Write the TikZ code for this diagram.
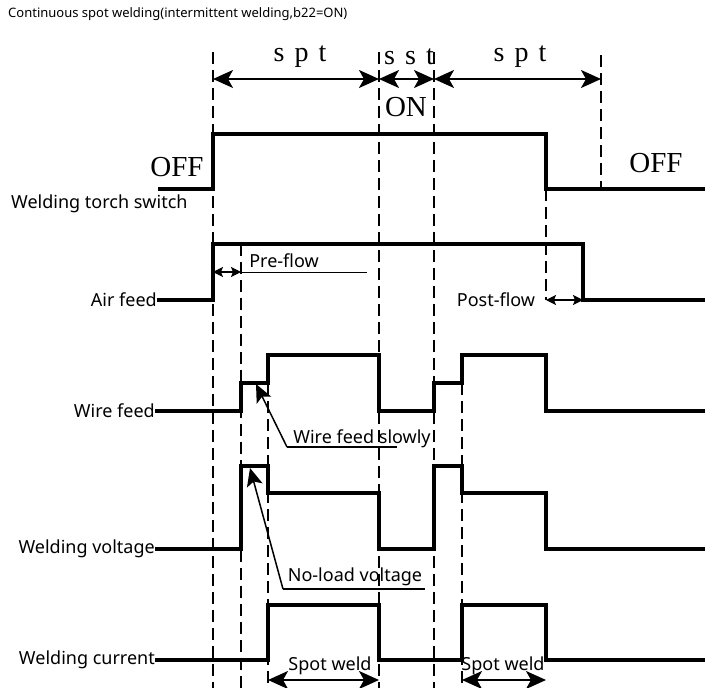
\documentclass[tikz,border=0pt]{standalone}
\usepackage{fontspec}
\setmainfont{Liberation Serif}
\newfontfamily\labfont{Noto Sans}
\newfontfamily\spfont[LetterSpace=36]{Liberation Serif}
\usetikzlibrary{arrows.meta}
\tikzset{
  sig/.style={line width=4.5pt, line join=miter},
  guide/.style={line width=2.2pt, dash pattern=on 12pt off 6pt},
  bigdim/.style={line width=1.8pt, {Stealth[length=20pt,width=18pt,inset=5pt]}-{Stealth[length=20pt,width=18pt,inset=5pt]}},
  smalldim/.style={line width=1.4pt, {Stealth[length=10pt,width=10pt,inset=2pt]}-{Stealth[length=10pt,width=10pt,inset=2pt]}},
  pointer/.style={line width=1.5pt, -{Stealth[length=18pt,width=16pt,inset=4pt]}},
  lab/.style={font=\labfont\fontsize{18}{20}\selectfont, inner sep=0pt},
  sertext/.style={font=\spfont\fontsize{28}{30}\selectfont, inner sep=0pt},
  offtext/.style={font=\fontsize{29}{31}\selectfont, inner sep=0pt},
}
\begin{document}
\begin{tikzpicture}[x=1pt,y=-1pt]
\useasboundingbox (0,0) rectangle (705,688);
\fill[white] (0,0) rectangle (705,688);

% title
\node[lab, anchor=west, font=\labfont\fontsize{13}{15}\selectfont] (title) at (8,14) {Continuous spot welding(intermittent welding,b22=ON)};

% dashed guides
\draw[guide] (213,52) -- (213,688);
\draw[guide] (379,52) -- (379,688);
\draw[guide] (434,52) -- (434,688);
\draw[guide] (601,55) -- (601,189);
\draw[guide] (546,189) -- (546,300);
\draw[guide] (241,244) -- (241,688);
\draw[guide] (268,383) -- (268,688);
\draw[guide] (462,383) -- (462,688);

% top dimensions
\coordinate (t1) at (213,79);
\coordinate (t2) at (379,79);
\coordinate (t3) at (434,79);
\coordinate (t4) at (601,79);
\draw[bigdim] (t1) -- (t2);
\draw[bigdim] (t2) -- (t3);
\draw[bigdim] (t3) -- (t4);
\node[sertext] (spt1) at (300,57) {spt};
\node[sertext] (sst) at (409,57) {sst};
\node[offtext] (on) at (406,107) {ON};
\node[sertext] (spt2) at (520,57) {spt};
\node[offtext] (off1) at (177,167) {OFF};
\node[offtext] (off2) at (656,163) {OFF};

% labels
\node[lab, anchor=west] (lsw) at (11,204) {Welding torch switch};
\node[lab, anchor=east] (lair) at (157,300) {Air feed};
\node[lab, anchor=east] (lwire) at (155,411) {Wire feed};
\node[lab, anchor=east] (lvolt) at (155,549) {Welding voltage};
\node[lab, anchor=east] (lcur) at (155,660) {Welding current};

% signals
\coordinate (swstart) at (158,189);
\draw[sig] (swstart) -| (213,134) -| (546,189) -- (706,189);
\draw[sig] (lair.east) -| (213,244) -| (583,300) -- (706,300);
\draw[sig] (lwire.east) -| (241,383) -| (268,355) -| (379,411) -| (434,383) -| (462,355) -| (546,411) -- (706,411);
\draw[sig] (lvolt.east) -| (241,466) -| (268,493) -| (379,549) -| (434,466) -| (462,493) -| (546,549) -- (706,549);
\draw[sig] (lcur.east) -| (268,605) -| (379,660) -| (462,605) -| (546,660) -- (706,660);

% pre-flow / post-flow
\coordinate (pf1) at (213,272);
\coordinate (pf2) at (241,272);
\coordinate (pf3) at (367,272);
\draw[smalldim] (pf1) -- (pf2);
\draw[line width=0.9pt] (pf2) -- (pf3);
\node[lab] (pre) at (284,261) {Pre-flow};
\coordinate (po1) at (546,300);
\coordinate (po2) at (583,300);
\draw[smalldim] (po1) -- (po2);
\node[lab] (post) at (496,300) {Post-flow};

% wire feed slowly
\coordinate (wf0) at (287,447);
\coordinate (wf1) at (256,384);
\coordinate (wf2) at (397,447);
\draw[pointer] (wf0) -- (wf1);
\draw[line width=1.1pt] (wf0) -- (wf2);
\node[lab] (wfs) at (362,439) {Wire feed slowly};

% no-load voltage
\coordinate (nl0) at (283,589);
\coordinate (nl1) at (250,468);
\coordinate (nl2) at (425,589);
\draw[pointer] (nl0) -- (nl1);
\draw[line width=1.1pt] (nl0) -- (nl2);
\node[lab] (nlv) at (355,577) {No-load voltage};

% spot weld
\coordinate (sw1) at (268,680);
\coordinate (sw2) at (379,680);
\coordinate (sw3) at (462,680);
\coordinate (sw4) at (546,680);
\draw[bigdim] (sw1) -- (sw2);
\draw[bigdim] (sw3) -- (sw4);
\node[lab] (spw1) at (330,666) {Spot weld};
\node[lab] (spw2) at (503,666) {Spot weld};
\end{tikzpicture}
\end{document}
